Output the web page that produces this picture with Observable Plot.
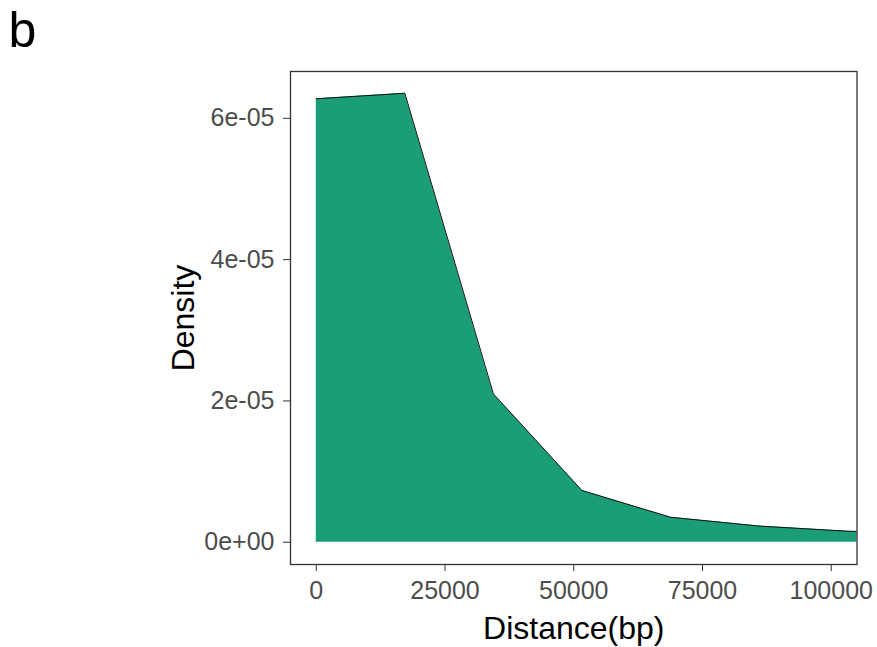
<!DOCTYPE html>
<html>
<head>
<meta charset="utf-8">
<script src="https://cdn.jsdelivr.net/npm/d3@7"></script>
<script src="https://cdn.jsdelivr.net/npm/@observablehq/plot@0.6"></script>
<style>
  html, body { margin: 0; padding: 0; background: #fff; }
</style>
</head>
<body>
<div id="chart"></div>
<script>
// Density estimate vertices (distance in bp, density)
const distance = [0, 17200, 34400, 51600, 68800, 86000, 103200, 120400];
const density  = [6.277e-05, 6.355e-05, 2.100e-05, 7.32e-06, 3.54e-06, 2.29e-06, 1.56e-06, 1.2e-06];

const xTicks = [0, 25000, 50000, 75000, 100000];
const xTickLabels = ["0", "25000", "50000", "75000", "100000"];
const yTicks = [0, 2e-05, 4e-05, 6e-05];
const yTickLabels = ["0e+00", "2e-05", "4e-05", "6e-05"];

const panelLabel = "b";
const xTitle = "Distance(bp)";
const yTitle = "Density";
const fillColor = "#1B9E77";

const data = distance.map((d, i) => ({x: d, y: density[i]}));

const chart = Plot.plot({
  width: 877,
  height: 647,
  marginLeft: 290,
  marginRight: 20.5,
  marginTop: 71,
  marginBottom: 83,
  style: {fontFamily: "'Liberation Sans', Arial, sans-serif", background: "#fff"},
  x: {domain: [-5000, 105000]},
  y: {domain: [-3.15e-06, 6.663e-05]},
  marks: [
    Plot.areaY(data, {x: "x", y: "y", fill: fillColor, clip: true}),
    Plot.lineY(data, {x: "x", y: "y", stroke: "#111", strokeWidth: 1, clip: true}),
    Plot.frame({stroke: "#333", strokeWidth: 1.3}),
    Plot.axisX({
      ticks: xTicks,
      tickFormat: d => xTickLabels[xTicks.indexOf(d)],
      fontSize: 25, tickSize: 7, tickPadding: 10,
      stroke: "#333", fill: "#4D4D4D", label: null
    }),
    Plot.axisY({
      ticks: yTicks,
      tickFormat: d => yTickLabels[yTicks.indexOf(d)],
      fontSize: 25, tickSize: 7, tickPadding: 9,
      stroke: "#333", fill: "#4D4D4D", label: null
    }),
    Plot.text([xTitle], {frameAnchor: "bottom", dy: 74, fontSize: 32, lineAnchor: "bottom", textAnchor: "middle", fill: "#000"}),
    Plot.text([yTitle], {frameAnchor: "left", dx: -97, rotate: -90, fontSize: 32, lineAnchor: "bottom", textAnchor: "middle", fill: "#000"}),
    Plot.text([panelLabel], {frameAnchor: "top-left", dx: -282, dy: -25, fontSize: 50, lineAnchor: "bottom", textAnchor: "start", fill: "#000"})
  ]
});
document.getElementById("chart").appendChild(chart);
</script>
</body>
</html>
